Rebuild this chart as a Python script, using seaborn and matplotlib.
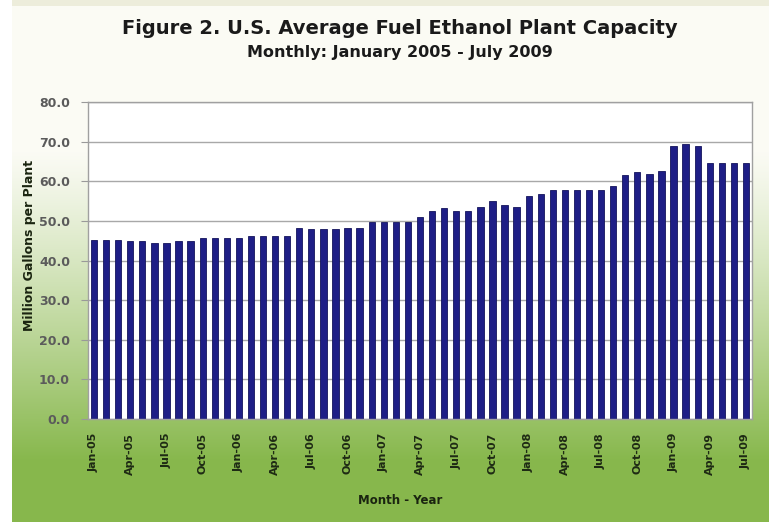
import numpy as np
import pandas as pd
import matplotlib
matplotlib.use("Agg")
import matplotlib.pyplot as plt
import seaborn as sns

# Monthly average capacity per plant (million gallons), Jan 2005 - Jul 2009
months = pd.date_range("2005-01-01", "2009-07-01", freq="MS").strftime("%b-%y").tolist()
capacity = [
    45.2, 45.2, 45.2, 45.0, 45.0, 44.4, 44.4, 44.9, 44.9, 45.7, 45.7, 45.7,
    45.7, 46.3, 46.3, 46.3, 46.3, 48.1, 47.9, 47.9, 47.9, 48.2, 48.1, 49.7,
    49.7, 49.7, 49.8, 51.0, 52.6, 53.2, 52.6, 52.5, 53.6, 55.0, 54.1, 53.5,
    56.3, 56.9, 57.8, 57.8, 57.8, 57.8, 57.8, 58.7, 61.5, 62.3, 61.9, 62.6,
    69.0, 69.4, 69.0, 64.5, 64.5, 64.5, 64.5,
]
y_ticks = [0, 10, 20, 30, 40, 50, 60, 70, 80]

df = pd.DataFrame({"month": months, "capacity": capacity})

sns.set_theme(style="white")
plt.rcParams["font.family"] = ["DejaVu Sans"]
plt.rcParams["font.weight"] = "bold"

W, H = 769, 522
fig = plt.figure(figsize=(W / 100, H / 100), dpi=100)

# Panel background: white left strip, beige top strip, vertical white-to-green fade
yy = np.arange(H)[:, None].astype(float)
t = np.clip((yy - 150) / 310.0, 0, 1) ** 1.15
top = np.array([0.985, 0.985, 0.96])
bottom = np.array([0.53, 0.72, 0.30])
grad = top + (bottom - top) * t[..., None]
img = np.repeat(grad, W, axis=1)
img[:, :12] = [1.0, 1.0, 1.0]
img[:6, 12:] = [0.93, 0.93, 0.86]
bg = fig.add_axes([0, 0, 1, 1], zorder=-10)
bg.imshow(img, aspect="auto", extent=[0, W, H, 0], interpolation="bilinear")
bg.set_axis_off()

# Plot area
left, right, top_px, bot_px = 88, 752, 102, 419
ax = fig.add_axes([left / W, 1 - bot_px / H, (right - left) / W, (bot_px - top_px) / H])
ax.set_facecolor("white")

sns.barplot(data=df, x="month", y="capacity", color="#1e1e86", saturation=1,
            width=0.52, edgecolor="#14145c", linewidth=0.6, ax=ax)

ax.set_ylim(0, 80)
ax.set_xlim(-0.5, len(months) - 0.5)
ax.set_yticks(y_ticks)
ax.set_yticklabels([f"{v:.1f}" for v in y_ticks], fontsize=9, fontweight="bold", color="#5b5b5b")
ax.yaxis.grid(True, color="#a8a8a8", linewidth=1.0)
ax.set_axisbelow(True)
ax.tick_params(axis="y", which="major", left=True, length=5, width=0.8, color="#999999", pad=8)
ax.tick_params(axis="x", bottom=False, pad=4)

xt = list(range(0, len(months), 3))
ax.set_xticks(xt)
ax.set_xticklabels([months[i] for i in xt], rotation=90, fontsize=8,
                   fontweight="bold", color="#1e2a14")
for s in ax.spines.values():
    s.set_color("#a0a0a0")
    s.set_linewidth(1.0)

ax.set_xlabel("")
ax.set_ylabel("")

fig.text(400 / W, 1 - 28 / H, "Figure 2. U.S. Average Fuel Ethanol Plant Capacity",
         ha="center", va="center", fontsize=14, fontweight="bold", color="#1a1a1a")
fig.text(400 / W, 1 - 53 / H, "Monthly: January 2005 - July 2009",
         ha="center", va="center", fontsize=11.5, fontweight="bold", color="#1a1a1a")
fig.text(30 / W, 1 - 245 / H, "Million Gallons per Plant", rotation=90,
         ha="center", va="center", fontsize=9, fontweight="bold", color="#1a2410")
fig.text(400 / W, 1 - 500 / H, "Month - Year",
         ha="center", va="center", fontsize=8.5, fontweight="bold", color="#1a2410")

fig.savefig("out.png", dpi=100)
